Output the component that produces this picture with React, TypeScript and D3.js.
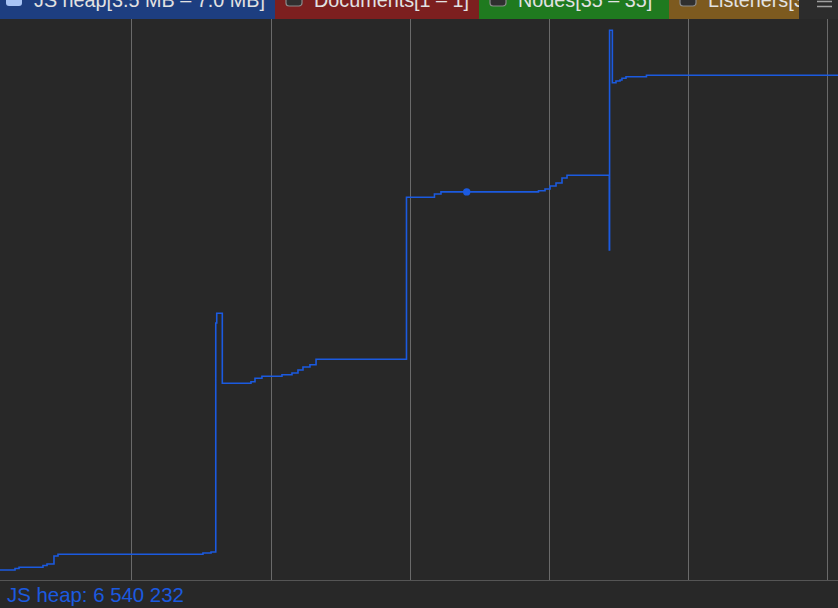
import React, { useEffect, useRef } from 'react'
import * as d3 from 'd3'

// sample times (ms from start of visible window) and JS heap size (bytes)
const sampleTimes = [0, 108, 137, 309, 338, 388, 417, 1459, 1517, 1551, 1558, 1598, 1804, 1833, 1883, 2027, 2099, 2142, 2178, 2228, 2272, 2922, 3123, 3170, 3871, 3918, 3954, 3997, 4040, 4076, 4380, 4382, 4402, 4428, 4457, 4471, 4500, 4647, 6024]
const heapValues = [3675800, 3687100, 3696200, 3709800, 3721200, 3781800, 3794700, 3804500, 3812100, 5547000, 5620500, 5090200, 5102300, 5128000, 5143200, 5155300, 5168200, 5190900, 5213600, 5231100, 5272000, 6499200, 6524200, 6540232, 6549200, 6562100, 6584800, 6607600, 6645500, 6665900, 6100000, 7764400, 7367400, 7380300, 7387900, 7400800, 7412900, 7423500, 7423500]

// grid ticks, one per second
const gridTimes = [945, 1945, 2945, 3945, 4945, 5945]

// counter legend tabs
const counterLabels = ['JS heap[3.5 MB – 7.0 MB]', 'Documents[1 – 1]', 'Nodes[35 – 35]', 'Listeners[3 – 3]']
const counterColors = ['#1d3e80', '#7c1f1f', '#1f7a1f', '#7d5a1f']
const counterChecked = [true, false, false, false]
const tabEdges = [0, 275, 479, 669, 799]

const markerTime = 3355
const markerValue = 6540232

const W = 838
const H = 608
const headerH = 19
const plotBottom = 580

export default function App() {
  const svgRef = useRef<SVGSVGElement>(null)

  useEffect(() => {
    const svg = d3.select(svgRef.current)
    svg.selectAll('*').remove()

    const font = '"Liberation Sans", Arial, Helvetica, sans-serif'
    const lineColor = '#1b5ae0'

    svg.append('rect').attr('width', W).attr('height', H).attr('fill', '#282828')

    const xScale = d3.scaleLinear().domain([0, 6024]).range([0, W])
    const yScale = d3.scaleLinear().domain([3600000, 7850000]).range([plotBottom, 19])

    // vertical grid
    svg.append('g')
      .selectAll('line')
      .data(gridTimes)
      .join('line')
      .attr('x1', d => Math.round(xScale(d)) + 0.5)
      .attr('x2', d => Math.round(xScale(d)) + 0.5)
      .attr('y1', headerH)
      .attr('y2', plotBottom)
      .attr('stroke', '#6a6a6a')
      .attr('stroke-width', 1)

    // bottom rule
    svg.append('line')
      .attr('x1', 0).attr('x2', W)
      .attr('y1', plotBottom + 0.5).attr('y2', plotBottom + 0.5)
      .attr('stroke', '#555555')

    const pts = sampleTimes.map((t, i) => [t, heapValues[i]] as [number, number])
    const line = d3.line<[number, number]>()
      .x(d => xScale(d[0]))
      .y(d => yScale(d[1]))
      .curve(d3.curveStepAfter)

    svg.append('path')
      .datum(pts)
      .attr('d', line)
      .attr('fill', 'none')
      .attr('stroke', lineColor)
      .attr('stroke-width', 1.6)

    svg.append('circle')
      .attr('cx', xScale(markerTime))
      .attr('cy', yScale(markerValue))
      .attr('r', 3.7)
      .attr('fill', lineColor)

    // header with counter tabs
    const header = svg.append('g')
    header.append('rect').attr('width', W).attr('height', headerH).attr('fill', '#2c2c2c')
    svg.append('clipPath').attr('id', 'tabclip')
      .append('rect').attr('width', tabEdges[4]).attr('height', headerH)
    const tabLayer = header.append('g').attr('clip-path', 'url(#tabclip)')
    const tabs = tabLayer.selectAll('g.tab')
      .data(counterLabels)
      .join('g')
      .attr('class', 'tab')
      .attr('transform', (_, i) => `translate(${tabEdges[i]},0)`)
    tabs.append('rect')
      .attr('width', (_, i) => tabEdges[i + 1] - tabEdges[i])
      .attr('height', headerH)
      .attr('fill', (_, i) => counterColors[i])
    tabs.append('rect')
      .attr('x', (_, i) => (i === 0 ? 6 : 11))
      .attr('y', -10)
      .attr('width', 16)
      .attr('height', 16)
      .attr('rx', 3)
      .attr('fill', (_, i) => (counterChecked[i] ? '#a8c4f5' : '#2f2f2f'))
      .attr('stroke', (_, i) => (counterChecked[i] ? 'none' : '#8a8a8a'))
      .attr('stroke-width', 1.2)
    tabs.append('text')
      .attr('x', (_, i) => (i === 0 ? 34 : 39))
      .attr('y', 7)
      .attr('fill', '#e2e2e2')
      .attr('font-family', font)
      .attr('font-size', 19.8)
      .text(d => d)

    // menu icon
    header.selectAll('line.menu')
      .data([1.5, 6.5])
      .join('line')
      .attr('class', 'menu')
      .attr('x1', 817).attr('x2', 832)
      .attr('y1', d => d).attr('y2', d => d)
      .attr('stroke', '#a0a0a0')
      .attr('stroke-width', 1.5)

    // footer readout
    svg.append('text')
      .attr('x', 7)
      .attr('y', 602)
      .attr('fill', lineColor)
      .attr('font-family', font)
      .attr('font-size', 20.4)
      .text(`JS heap: ${d3.format(',')(markerValue).replace(/,/g, ' ')}`)
  }, [])

  return (
    <div style={{ position: 'absolute', left: 0, top: 0 }}>
      <svg ref={svgRef} width={W} height={H} style={{ display: 'block' }} />
    </div>
  )
}
